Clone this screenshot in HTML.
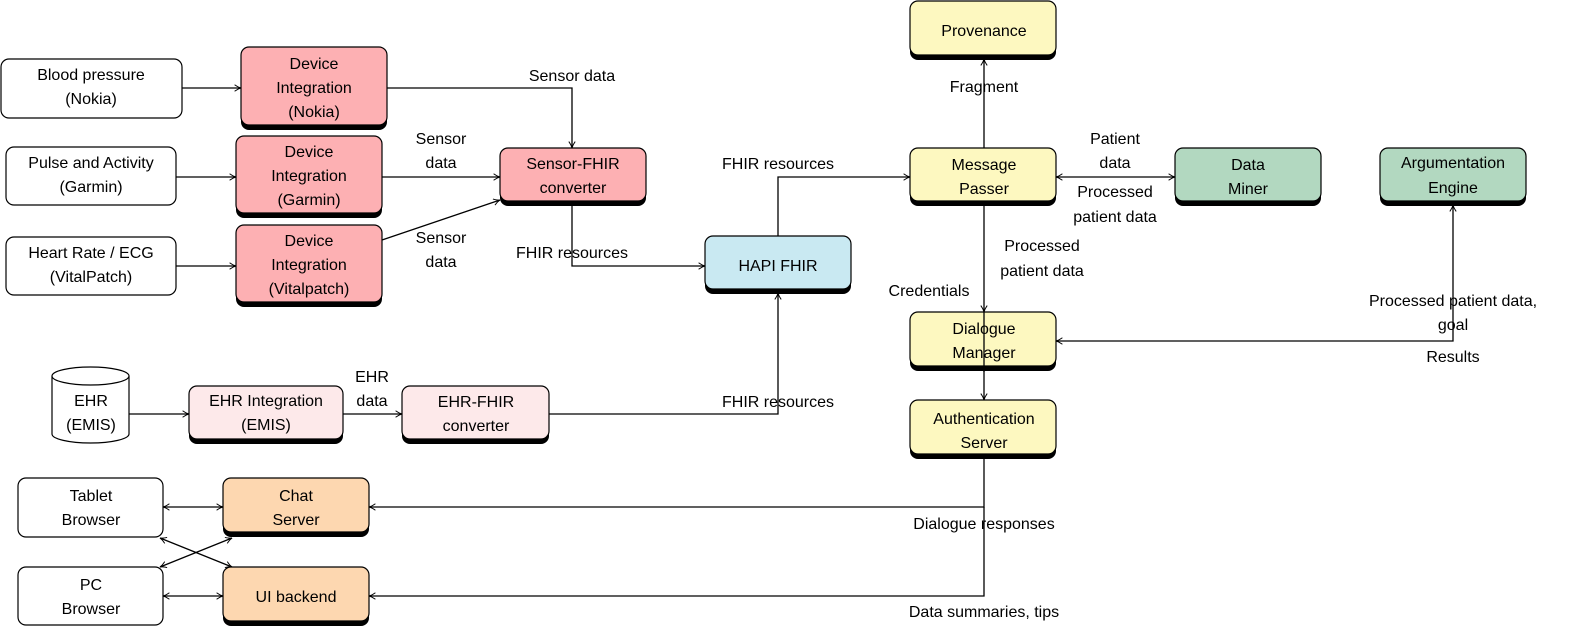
<!DOCTYPE html>
<html><head><meta charset="utf-8"><style>
html,body{margin:0;padding:0;background:#fff;overflow:hidden;width:1583px;height:634px;}
svg{display:block;font-family:"Liberation Sans",sans-serif;font-size:16px;}
text{text-anchor:middle;fill:#000;}
.l{stroke:#000;stroke-width:1.3;fill:none;}
</style></head><body>
<svg width="1583" height="634" viewBox="0 0 1583 634" xmlns="http://www.w3.org/2000/svg">
<defs>
<marker id="a" viewBox="0 0 10 10" refX="9" refY="5" markerWidth="8" markerHeight="8" orient="auto-start-reverse" markerUnits="userSpaceOnUse"><path d="M1,1 Q5,4 9,5 Q5,6 1,9" fill="none" stroke="#000" stroke-width="1.2"/></marker>
</defs>
<g class="l" marker-end="url(#a)">
<path d="M182,88 H241"/>
<path d="M387,88 H572 V148"/>
<path d="M176,177 H236"/>
<path d="M382,177 H500"/>
<path d="M176,266 H236"/>
<path d="M382,240 L500,200"/>
<path d="M572,205 V266 H705"/>
<path d="M778,236 V177 H910"/>
<path d="M129,414 H189"/>
<path d="M343,414 H402"/>
<path d="M549,414 H778 V293"/>
<path d="M984,148 V59"/>
<path d="M1056,177 H1175" marker-start="url(#a)"/>
<path d="M984,205 V312"/>
<path d="M1056,341 H1453 V205" marker-start="url(#a)"/>
<path d="M984,370 V400"/>
<path d="M984,458 V507 H369"/>
<path d="M984,507 V596 H369"/>
<path d="M163,507 H223" marker-start="url(#a)"/>
<path d="M163,596 H223" marker-start="url(#a)"/>
<path d="M160,538 L232,567" marker-start="url(#a)"/>
<path d="M160,567 L232,538" marker-start="url(#a)"/>
</g>
<g fill="#fff" stroke="#000" stroke-width="1.2">
<rect x="1" y="59" width="181" height="59" rx="8"/>
<rect x="6" y="147" width="170" height="58" rx="8"/>
<rect x="6" y="237" width="170" height="58" rx="8"/>
<rect x="18" y="478" width="145" height="59" rx="8"/>
<rect x="18" y="567" width="145" height="58" rx="8"/>
<path d="M52,376 V434 A38.5,9 0 0 0 129,434 V376"/>
<ellipse cx="90.5" cy="376" rx="38.5" ry="9"/>
</g>
<g stroke="#000" stroke-width="1.2">
<g fill="#000" stroke="none">
<rect x="241" y="51" width="146" height="79" rx="8"/>
<rect x="236" y="140" width="146" height="78" rx="8"/>
<rect x="236" y="229" width="146" height="78" rx="8"/>
<rect x="500" y="152" width="146" height="54" rx="8"/>
<rect x="705" y="240" width="146" height="54" rx="8"/>
<rect x="189" y="390" width="154" height="54" rx="8"/>
<rect x="402" y="390" width="147" height="54" rx="8"/>
<rect x="223" y="482" width="146" height="55" rx="8"/>
<rect x="223" y="571" width="146" height="55" rx="8"/>
<rect x="910" y="5" width="146" height="55" rx="8"/>
<rect x="910" y="152" width="146" height="54" rx="8"/>
<rect x="1175" y="152" width="146" height="54" rx="8"/>
<rect x="1380" y="152" width="146" height="54" rx="8"/>
<rect x="910" y="316" width="146" height="55" rx="8"/>
<rect x="910" y="404" width="146" height="55" rx="8"/>
</g>
<rect x="241" y="47" width="146" height="78" rx="8" fill="#fdb0b3"/>
<rect x="236" y="136" width="146" height="77" rx="8" fill="#fdb0b3"/>
<rect x="236" y="225" width="146" height="77" rx="8" fill="#fdb0b3"/>
<rect x="500" y="148" width="146" height="53" rx="8" fill="#fdb0b3"/>
<rect x="705" y="236" width="146" height="53" rx="8" fill="#c9e9f2"/>
<rect x="189" y="386" width="154" height="53" rx="8" fill="#fde9ea"/>
<rect x="402" y="386" width="147" height="53" rx="8" fill="#fde9ea"/>
<rect x="223" y="478" width="146" height="54" rx="8" fill="#fdd7b0"/>
<rect x="223" y="567" width="146" height="54" rx="8" fill="#fdd7b0"/>
<rect x="910" y="1" width="146" height="54" rx="8" fill="#fdf8c0"/>
<rect x="910" y="148" width="146" height="53" rx="8" fill="#fdf8c0"/>
<rect x="1175" y="148" width="146" height="53" rx="8" fill="#b2d8c0"/>
<rect x="1380" y="148" width="146" height="53" rx="8" fill="#b2d8c0"/>
<rect x="910" y="312" width="146" height="54" rx="8" fill="#fdf8c0"/>
<rect x="910" y="400" width="146" height="54" rx="8" fill="#fdf8c0"/>
</g>
<path class="l" d="M984,312 V372"/>
<text x="91" y="80">Blood pressure</text><text x="91" y="104">(Nokia)</text>
<text x="91" y="168">Pulse and Activity</text><text x="91" y="192">(Garmin)</text>
<text x="91" y="258">Heart Rate / ECG</text><text x="91" y="282">(VitalPatch)</text>
<text x="314" y="69">Device</text><text x="314" y="93">Integration</text><text x="314" y="117">(Nokia)</text>
<text x="309" y="157">Device</text><text x="309" y="181">Integration</text><text x="309" y="205">(Garmin)</text>
<text x="309" y="246">Device</text><text x="309" y="270">Integration</text><text x="309" y="294">(Vitalpatch)</text>
<text x="573" y="169">Sensor-FHIR</text><text x="573" y="193">converter</text>
<text x="778" y="271">HAPI FHIR</text>
<text x="91" y="406">EHR</text><text x="91" y="430">(EMIS)</text>
<text x="266" y="406">EHR Integration</text><text x="266" y="430">(EMIS)</text>
<text x="476" y="407">EHR-FHIR</text><text x="476" y="431">converter</text>
<text x="91" y="501">Tablet</text><text x="91" y="525">Browser</text>
<text x="296" y="501">Chat</text><text x="296" y="525">Server</text>
<text x="91" y="590">PC</text><text x="91" y="614">Browser</text>
<text x="296" y="602">UI backend</text>
<text x="984" y="36">Provenance</text>
<text x="984" y="170">Message</text><text x="984" y="194">Passer</text>
<text x="1248" y="170">Data</text><text x="1248" y="194">Miner</text>
<text x="1453" y="168">Argumentation</text><text x="1453" y="193">Engine</text>
<text x="984" y="334">Dialogue</text><text x="984" y="358">Manager</text>
<text x="984" y="424">Authentication</text><text x="984" y="448">Server</text>
<text x="572" y="81">Sensor data</text>
<text x="441" y="144">Sensor</text><text x="441" y="168">data</text>
<text x="441" y="243">Sensor</text><text x="441" y="267">data</text>
<text x="572" y="258">FHIR resources</text>
<text x="778" y="169">FHIR resources</text>
<text x="372" y="382">EHR</text><text x="372" y="406">data</text>
<text x="778" y="407">FHIR resources</text>
<text x="984" y="92">Fragment</text>
<text x="1115" y="144">Patient</text><text x="1115" y="168">data</text>
<text x="1115" y="197">Processed</text><text x="1115" y="222">patient data</text>
<text x="1042" y="251">Processed</text><text x="1042" y="276">patient data</text>
<text x="929" y="296">Credentials</text>
<text x="1453" y="306">Processed patient data,</text><text x="1453" y="330">goal</text>
<text x="1453" y="362">Results</text>
<text x="984" y="529">Dialogue responses</text>
<text x="984" y="617">Data summaries, tips</text>
</svg>
</body></html>
